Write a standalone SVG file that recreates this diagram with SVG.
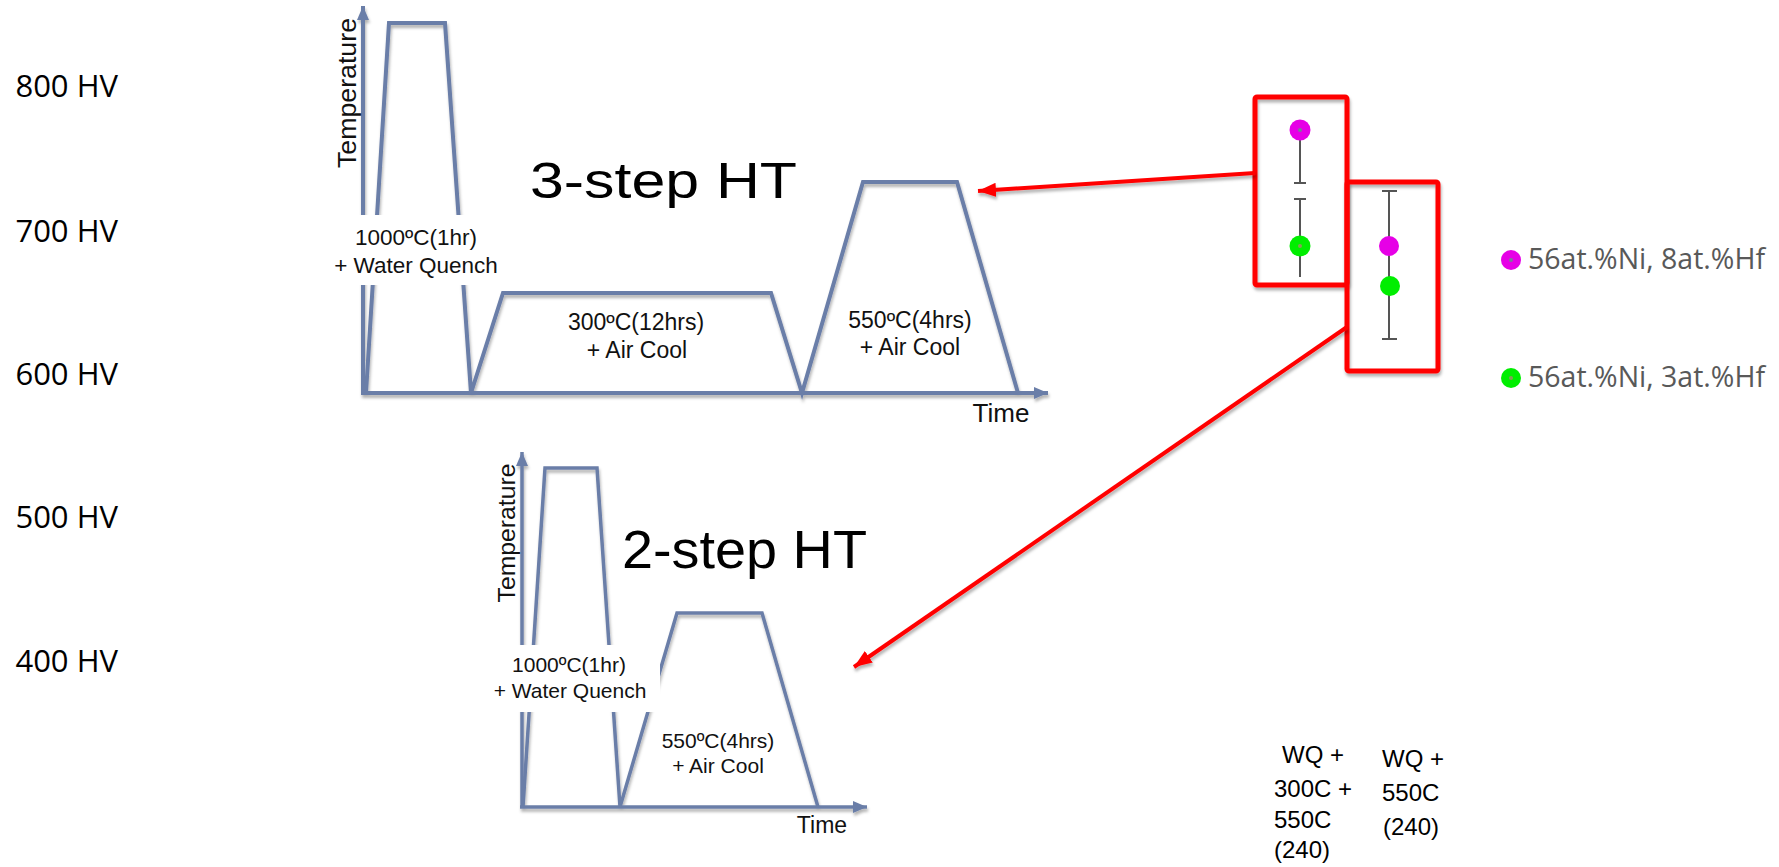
<svg xmlns="http://www.w3.org/2000/svg" width="1779" height="867" viewBox="0 0 1779 867">
  <defs>
    <style>
      .hv { font-family: "Open Sans", "Liberation Sans", sans-serif; font-size: 31px; fill: #000; text-anchor: end; }
      .lab { font-family: "Liberation Sans", Arial, sans-serif; fill: #111; text-anchor: middle; }
      .title { font-family: "Liberation Sans", Arial, sans-serif; fill: #000; }
      .prof { fill: none; stroke: #6b7ea8; stroke-linejoin: miter; }
      .axis { fill: none; stroke: #6b7ea8; }
      .cover { fill: #fff; }
      .box { fill: none; stroke: #ff0000; stroke-width: 5; }
      .conn { stroke: #ff0000; stroke-width: 4; fill: none; }
      .err { stroke: #555; stroke-width: 2; fill: none; }
      .leg { font-family: "Open Sans", "Liberation Sans", sans-serif; font-size: 28.5px; fill: #595959; }
      .cond { font-family: "Liberation Sans", Arial, sans-serif; font-size: 24px; fill: #000; }
    </style>
    <filter id="shadow" x="-5%" y="-5%" width="115%" height="115%">
      <feDropShadow dx="1" dy="3" stdDeviation="1.6" flood-color="#000" flood-opacity="0.3"/>
    </filter>
    <marker id="axisHead" markerUnits="userSpaceOnUse" markerWidth="16" markerHeight="14" refX="14" refY="6" orient="auto">
      <path d="M0,0 L14,6 L0,12 z" fill="#6b7ea8"/>
    </marker>
    <marker id="redHead" markerUnits="userSpaceOnUse" markerWidth="20" markerHeight="16" refX="18" refY="7" orient="auto">
      <path d="M0,0 L18,7 L0,14 z" fill="#ff0000"/>
    </marker>
  </defs>

  <rect width="1779" height="867" fill="#fff"/>

  <!-- hardness scale labels -->
  <g id="hv-scale">
    <text class="hv" x="118" y="97">800 HV</text>
    <text class="hv" x="118" y="242">700 HV</text>
    <text class="hv" x="118" y="385">600 HV</text>
    <text class="hv" x="118" y="528">500 HV</text>
    <text class="hv" x="118" y="672">400 HV</text>
  </g>

  <!-- three-step heat treatment schedule -->
  <g id="ht-3step">
    <g filter="url(#shadow)">
      <line class="axis" x1="363" y1="393" x2="363" y2="6" stroke-width="4" marker-end="url(#axisHead)"/>
      <line class="axis" x1="361" y1="393" x2="1048" y2="393" stroke-width="4" marker-end="url(#axisHead)"/>
      <path class="prof" stroke-width="4" d="M366,393 L389,23 L445,23 L471,393 L503,293 L771,293 L802,393 L863,182 L957,182 L1018,393"/>
    </g>
    <rect class="cover" x="333" y="215" width="168" height="70"/>
    <text class="lab" font-size="26" transform="translate(356,93) rotate(-90)" textLength="150" lengthAdjust="spacingAndGlyphs">Temperature</text>
    <text class="lab" font-size="26" x="1001" y="422">Time</text>
    <text class="lab" font-size="22.5" x="416" y="245">1000ºC(1hr)</text>
    <text class="lab" font-size="22.5" x="416" y="273">+ Water Quench</text>
    <text class="lab" font-size="23" x="636" y="330">300ºC(12hrs)</text>
    <text class="lab" font-size="23" x="637" y="358">+ Air Cool</text>
    <text class="lab" font-size="23" x="910" y="328">550ºC(4hrs)</text>
    <text class="lab" font-size="23" x="910" y="355">+ Air Cool</text>
    <text class="title" font-size="50" x="530" y="198" textLength="267" lengthAdjust="spacingAndGlyphs">3-step HT</text>
  </g>

  <!-- two-step heat treatment schedule -->
  <g id="ht-2step">
    <g filter="url(#shadow)">
      <line class="axis" x1="522" y1="807" x2="522" y2="452" stroke-width="3.5" marker-end="url(#axisHead)"/>
      <line class="axis" x1="520" y1="807" x2="867" y2="807" stroke-width="3.5" marker-end="url(#axisHead)"/>
      <path class="prof" stroke-width="3.5" d="M523,807 L545,468 L597,468 L620,807 L677,613 L762,613 L818,807"/>
    </g>
    <rect class="cover" x="490" y="645" width="170" height="67"/>
    <text class="lab" font-size="24" transform="translate(515,533) rotate(-90)" textLength="139" lengthAdjust="spacingAndGlyphs">Temperature</text>
    <text class="lab" font-size="23" x="822" y="833">Time</text>
    <text class="lab" font-size="21" x="569" y="672">1000ºC(1hr)</text>
    <text class="lab" font-size="21" x="570" y="698">+ Water Quench</text>
    <text class="lab" font-size="21" x="718" y="748">550ºC(4hrs)</text>
    <text class="lab" font-size="21" x="718" y="773">+ Air Cool</text>
    <text class="title" font-size="53" x="622" y="568" textLength="245" lengthAdjust="spacingAndGlyphs">2-step HT</text>
  </g>

  <!-- hardness data for WQ + 300C + 550C -->
  <g id="data-3step">
    <line class="err" x1="1300" y1="130" x2="1300" y2="183"/>
    <line class="err" x1="1294" y1="183" x2="1306" y2="183"/>
    <line class="err" x1="1300" y1="199" x2="1300" y2="277"/>
    <line class="err" x1="1294" y1="199" x2="1306" y2="199"/>
    <circle cx="1300" cy="130" r="10.5" fill="#e600e6"/>
    <circle cx="1300" cy="130" r="2" fill="#7a7a9a"/>
    <circle cx="1300" cy="246" r="10.5" fill="#00ee00"/>
    <circle cx="1300" cy="246" r="2" fill="#8a9a5a"/>
    <rect class="box" x="1255" y="97" width="92" height="188" rx="2" filter="url(#shadow)"/>
  </g>

  <!-- hardness data for WQ + 550C -->
  <g id="data-2step">
    <line class="err" x1="1389" y1="191" x2="1389" y2="339"/>
    <line class="err" x1="1382" y1="191" x2="1397" y2="191"/>
    <line class="err" x1="1382" y1="339" x2="1397" y2="339"/>
    <circle cx="1389" cy="246" r="10" fill="#e600e6"/>
    <circle cx="1390" cy="286" r="10" fill="#00ee00"/>
    <rect class="box" x="1347" y="182" width="91" height="189" rx="2" filter="url(#shadow)"/>
  </g>

  <!-- connectors from data boxes to schedules -->
  <g id="connectors" filter="url(#shadow)">
    <line class="conn" x1="1255" y1="173" x2="978" y2="191" marker-end="url(#redHead)"/>
    <line class="conn" x1="1347" y1="327" x2="854" y2="667" marker-end="url(#redHead)"/>
  </g>

  <!-- legend -->
  <g id="legend">
    <circle cx="1511" cy="260" r="10" fill="#e600e6"/>
    <circle cx="1511" cy="260" r="2" fill="#7a7a9a"/>
    <text class="leg" x="1528" y="269">56at.%Ni, 8at.%Hf</text>
    <circle cx="1511" cy="378" r="10" fill="#00ee00"/>
    <circle cx="1511" cy="378" r="2" fill="#8a9a5a"/>
    <text class="leg" x="1528" y="387">56at.%Ni, 3at.%Hf</text>
  </g>

  <!-- treatment condition labels -->
  <g id="conditions">
    <text class="cond" x="1282" y="763">WQ +</text>
    <text class="cond" x="1274" y="797">300C +</text>
    <text class="cond" x="1274" y="828">550C</text>
    <text class="cond" x="1274" y="858">(240)</text>
    <text class="cond" x="1382" y="767">WQ +</text>
    <text class="cond" x="1382" y="801">550C</text>
    <text class="cond" x="1383" y="835">(240)</text>
  </g>
</svg>
